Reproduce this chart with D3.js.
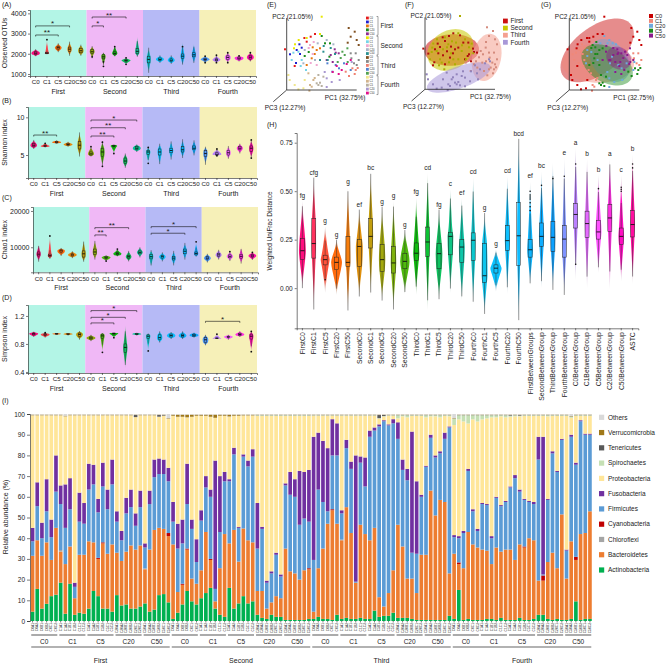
<!DOCTYPE html>
<html>
<head>
<meta charset="utf-8">
<script src="https://cdn.jsdelivr.net/npm/d3@7"></script>
<style>
body{margin:0;background:#fff}
svg text{font-family:"Liberation Sans",Arial,sans-serif;fill:#222}
</style>
</head>
<body>
<svg id="fig" width="669" height="665"></svg>
<script>
// ---------- shared categories ----------
const periods = ["First","Second","Third","Fourth"];
const concs = ["C0","C1","C5","C20","C50"];
const reps = ["A1","A2","B1","B2","C1","C2"];
const groups = periods.flatMap(p => concs.map(c => p + c));

// ---------- alpha diversity (lo, q1, median, q3, hi) ----------
const otuStats = [
 [1880,1960,2030,2100,2230],[1980,2000,2030,2060,2700],[2080,2230,2300,2360,2520],[1900,2120,2230,2330,2600],[1900,2050,2150,2260,2450],
 [1780,2020,2100,2200,2380],[1380,1750,1850,1950,2050],[1870,1960,2020,2100,2430],[1480,1630,1670,1700,1800],[1850,2000,2120,2250,2850],
 [1050,1550,1720,1880,2300],[1550,1670,1720,1790,1920],[1500,1620,1680,1750,1920],[1400,1780,1880,1990,2600],[1500,1850,1950,2050,2500],
 [1560,1680,1720,1770,1880],[1560,1650,1700,1750,1930],[1560,1720,1820,1900,2060],[1620,1720,1780,1840,1900],[1620,1740,1830,1920,2050]];
const otuDots = [["FirstC1",2700],["SecondC0",1850],["SecondC1",1600],["SecondC1",1380],["SecondC5",2350],["SecondC20",1800],["SecondC20",1480],
 ["ThirdC20",2350],["FourthC0",1880],["FourthC0",1560],["FourthC1",1930],["FourthC1",1560],["FourthC5",2050],["FourthC5",1560],["FourthC20",1900],["FourthC50",2050]];
const otuSig = [["FirstC0","FirstC20",3380,"*"],["FirstC0","FirstC5",2930,"**"],["SecondC0","SecondC20",3820,"**"],["SecondC0","SecondC1",3380,"*"]];

const shannonStats = [
 [5.8,6.1,6.3,6.5,7.0],[6.0,6.1,6.2,6.25,6.6],[6.5,6.6,6.7,6.8,6.95],[6.1,6.3,6.4,6.5,6.75],[4.8,5.8,6.3,6.8,8.0],
 [4.8,5.0,5.15,5.4,6.1],[3.5,4.8,5.4,5.9,6.8],[5.2,6.1,6.2,6.3,6.4],[3.3,3.9,4.2,4.6,5.2],[5.4,5.7,5.9,6.1,6.4],
 [3.9,5.1,5.4,5.6,6.0],[3.6,5.0,5.4,5.8,6.5],[4.4,5.3,5.6,5.9,6.9],[4.6,5.4,5.7,6.1,7.1],[4.9,5.7,5.9,6.2,7.0],
 [3.7,4.8,5.2,5.6,6.1],[4.9,5.0,5.1,5.3,5.8],[4.5,5.0,5.3,5.6,6.2],[5.2,5.7,5.9,6.1,6.5],[4.6,5.5,5.9,6.2,7.0]];
const shannonDots = [["FirstC1",6.55],["SecondC0",6.1],["SecondC1",3.5],["SecondC1",6.7],["SecondC5",5.2],["ThirdC0",6.0],["ThirdC0",3.9],
 ["FourthC1",5.8],["FourthC1",4.9],["FourthC50",4.6],["FourthC50",7.0]];
const shannonSig = [["FirstC0","FirstC5",7.65,"**"],["SecondC0","SecondC50",9.64,"*"],["SecondC0","SecondC20",8.62,"**"],["SecondC0","SecondC5",7.52,"**"]];

const chaoStats = [
 [6000,7600,8100,8700,10800],[6800,7400,7700,8100,13100],[7600,8500,9000,9300,9800],[7000,7600,7900,8200,8900],[6000,7300,8200,9000,12000],
 [6600,8000,8700,9500,12000],[6200,6900,7100,7400,7800],[7500,7900,8200,8500,9500],[6100,7000,7400,7800,9000],[7200,8200,8600,9000,10000],
 [4500,6800,7400,8000,9200],[6100,7000,7400,7700,8600],[5000,6500,7000,7500,9000],[6600,8200,8900,9500,11200],[7400,7900,8300,8700,11500],
 [5800,6600,7000,7400,8200],[6600,7500,7900,8300,9300],[6200,7100,7500,7900,8800],[5500,7000,7500,8000,10000],[6500,7300,7600,8000,8600]];
const chaoDots = [["FirstC1",13100],["SecondC1",6200],["SecondC5",9500],["ThirdC50",11500],["FourthC5",8800],["FourthC50",8600]];
const chaoSig = [["SecondC0","SecondC20",15400,"**"],["SecondC0","SecondC1",13390,"**"],["ThirdC0","ThirdC50",15675,"*"],["ThirdC0","ThirdC20",13860,"*"]];

const simpsonStats = [
 [0.90,0.93,0.945,0.955,0.975],[0.89,0.92,0.93,0.945,0.96],[0.93,0.94,0.945,0.95,0.955],[0.92,0.935,0.94,0.95,0.955],[0.86,0.91,0.935,0.955,0.985],
 [0.84,0.87,0.885,0.90,0.93],[0.68,0.88,0.915,0.94,0.955],[0.89,0.94,0.95,0.955,0.96],[0.45,0.68,0.75,0.80,1.07],[0.92,0.935,0.94,0.95,0.96],
 [0.70,0.88,0.91,0.93,0.95],[0.82,0.86,0.89,0.93,0.98],[0.87,0.90,0.92,0.94,0.97],[0.87,0.90,0.92,0.94,0.98],[0.89,0.91,0.925,0.94,0.96],
 [0.78,0.82,0.86,0.89,0.93],[0.87,0.875,0.88,0.885,0.94],[0.86,0.89,0.90,0.91,0.93],[0.90,0.92,0.935,0.95,0.98],[0.69,0.87,0.91,0.94,0.98]];
const simpsonDots = [["FirstC1",0.96],["SecondC1",0.68],["SecondC5",0.89],["ThirdC0",0.70],["FourthC1",0.94],["FourthC50",0.98],["FourthC50",0.69]];
const simpsonSig = [["SecondC0","SecondC50",1.276,"*"],["SecondC0","SecondC20",1.18,"*"],["SecondC0","SecondC5",1.1,"*"],["FourthC0","FourthC20",1.123,"*"]];

// ---------- PCoA scores, one per sample (period, conc, rep order) ----------
const pc1 = [
 24,28.3,20,17.7,-1.7,8, 12.7,15,13.3,9.3,3.3,10, 26,30,33.3,25,20,28, 35,38.3,43.3,22,18,42.7, 44,40,46,48,49,52,
 35,33.3,12,20,8.3,7.3, 6.7,11.7,5,14,19.3,15, 23.3,27,22,26,24,30, 31,40,46.7,16.7,28.3,18, 36.7,48.3,44,41,37,33.3,
 68,64,62,70,72,61, 64,69,72,64.7,67.3,70, 65.7,69,62.3,59,68,71, 57.3,52.3,49,40.7,45.7,64, 58,54,51,61,60.7,55.7,
 1.7,3,8,11.7,16.7,18, 22.7,23.3,25,21.7,28,26.7, 30,31.7,33.3,35,31.7,36.7, 40,40,45,38,53,65, 50,55,60,46,52,64];
const pc2 = [
 53.3,56,48.3,52,40.7,24, 45.7,42.3,36,27,35.7,40, 42.7,40,41.7,31.7,25,36, 54,46.7,46.7,38,34,33.3, 35,30,28,40.7,37.3,36.7,
 73.3,56,50,52,45.7,41.7, 37.3,38.3,30,24,20,30, 45,48,42,36,27,25, 46.7,50,45.7,26.7,30,40, 38.3,36,42,30,44,30,
 58.3,53.3,62,50,45,47.3, 36.7,36.7,30,31.7,26.7,25, 21.7,20,14,18.3,16,22, 26.7,21.7,25,26.7,18.3,20, 35,32,28,28,41.7,38.3,
 15,10,5,0.7,1.7,10, -0.7,5,3.3,16.7,12,10, 6.7,5,7.3,4,15,13.3, 11.7,3,8,18,10,28, 24,20,26,18,16,30];

// ---------- beta diversity (weighted UniFrac) ----------
const hLabels = ["FirstC0","FirstC1","FirstC5","FirstC20","FirstC50","SecondC0","SecondC1","SecondC5","SecondC20","SecondC50",
 "ThirdC0","ThirdC1","ThirdC5","ThirdC20","ThirdC50","FourthC0","FourthC1","FourthC5","FourthC20","FourthC50",
 "FirstBetweenGroups","SecondBetweenGroup","ThirdBetweenGroup","FourthBetweenGroup","C0BetweenGroup","C1BetweenGroup",
 "C5BetweenGroup","C20BetweenGroup","C50BetweenGroup","ASTC"];
const hLo  = [0.0,-0.11,-0.025,-0.035,-0.115,-0.043,-0.043,-0.064,-0.11,-0.03,-0.035,-0.115,-0.057,-0.026,-0.064,-0.086,-0.133,-0.017,-0.03,-0.165,0.014,0.0,-0.009,-0.035,0.04,0.0,0.078,-0.009,0.034,0.022];
const hQ1  = [0.147,0.155,0.12,0.095,0.112,0.112,0.207,0.086,0.078,0.10,0.143,0.164,0.10,0.172,0.133,0.143,0.03,0.078,0.195,0.116,0.16,0.216,0.19,0.16,0.31,0.262,0.253,0.293,0.224,0.264];
const hMed = [0.193,0.23,0.147,0.133,0.133,0.215,0.267,0.147,0.13,0.138,0.18,0.238,0.178,0.267,0.212,0.247,0.064,0.103,0.245,0.27,0.198,0.267,0.262,0.253,0.38,0.333,0.29,0.362,0.267,0.328];
const hQ3  = [0.257,0.36,0.17,0.16,0.267,0.25,0.36,0.224,0.215,0.18,0.233,0.315,0.23,0.288,0.25,0.285,0.23,0.12,0.322,0.443,0.25,0.336,0.345,0.322,0.436,0.397,0.35,0.431,0.31,0.40];
const hHi  = [0.45,0.57,0.32,0.25,0.52,0.405,0.595,0.42,0.45,0.30,0.47,0.595,0.405,0.51,0.465,0.574,0.388,0.20,0.578,0.77,0.55,0.603,0.647,0.672,0.724,0.667,0.586,0.667,0.586,0.69];
const hLetters = ["fg","cfg","g","g","g","ef","bc","g","g","g","fg","cd","fg","c","ef","cd","g","g","cd","bcd","ef","bc","","e","a","b","b","a","c","b"];
const hDots = [["FirstC5",0.043],["FirstBetweenGroups",0.40],["FirstBetweenGroups",0.42],["FirstBetweenGroups",0.44],["FirstBetweenGroups",0.46],
 ["FirstBetweenGroups",0.47],["FirstBetweenGroups",0.48],["FirstBetweenGroups",0.50],["SecondBetweenGroup",0.53],["ThirdBetweenGroup",0.565],
 ["FourthBetweenGroup",0.577],["C0BetweenGroup",0.64],["C0BetweenGroup",0.123],["C5BetweenGroup",0.513],["C50BetweenGroup",0.50],
 ["C50BetweenGroup",0.51],["C50BetweenGroup",0.52],["ASTC",0.62],["ASTC",0.64]];

// ---------- relative abundance, cumulative tops per sample (%) ----------
const actTop = [
 4.5,15.5,6,8.3,12,12.7, 18.5,3.5,18,3,4,3.5, 6,14.5,12,6,6,4.5, 12.5,7.5,8,6,6,7, 8.5,4.5,5.5,12.5,13,9,
 1,4,8,14.5,9.5,8, 11,13.5,16,6,3,2, 16,6,8.5,12,8.5,9.5, 3,1.5,1,3,2,2, 0.5,0.5,0.5,0.5,0.5,1,
 1,2,1,1,0.5,3, 1,1.5,1,1,1.5,1, 1,5,2,2.5,2.5,4, 1.5,1.5,1.5,1,0.5,0.5, 0.5,0.5,0.5,0.5,0.5,2.5,
 1,15,0.5,1,0.5,0.5, 0.5,1,1,0.5,1.5,0.5, 0.5,0.5,1.5,0.5,0.5,1, 3,3,1,0.5,1,0.5, 0.5,1,9.5,0.5,1,1];
const bacTop = [
 31.5,39,31.5,38,29.5,45, 33.5,27.5,36,11,32,32, 38.5,38,30,37.5,32.5,37, 33,29,33.5,36.5,34.5,36.5, 25,34.5,44,45,44.5,41,
 37,14,17.5,34.5,20.5,18, 24.5,43,29.5,9.5,25.5,42, 37.5,44,28.7,44.7,39,38, 14.5,14.5,6,9,12,11, 35,24,23,20,24.5,25,
 4.5,25.5,35,47,53.5,47, 39,55,42.5,18.5,46.5,42, 39,45,11.5,7,13.5,24.5, 46.5,36,20.5,20.5,13.5,32, 32,63,51,58.5,57.5,23,
 32.5,27.5,25.5,43,37,35.5, 34.5,34,27.5,35.5,33.5,34.5, 34.5,29.5,37,35.5,40,39, 19.5,19.5,28.5,33,25.5,51.5, 20.5,38.5,29.5,42,42.5,53];
const chloro = [
 0,0,0,0,0,0, 0.8,0,0,0,0,0, 0,0,0,0,0,0, 0,0,0,0,0,0, 0.4,0,0,0,0,0,
 0,0,0,0,0,0, 0,0,0,0,0,0, 0,0,0,0,0,0, 0,0,0,0,0,0, 0,0,0,0,0,0,
 0,0,0,0,0,0, 0.3,0,0,0,0,0, 0,0,0,0,0,0, 0,0,0,0,0,0, 0,0,0,0,0,0,
 0,0,0,0,0,0, 0,0,0,0,0,0, 0,0,0,0,0,0, 0,0,0,0,0,0, 0,0,0,0,0,0];
const cyano = [
 0,0,0,0,0,0, 0,0,0,0,0,0, 0,0,0.5,0.5,0,0, 0,0,0,0,0,0, 0,0,0,0,0,1.5,
 0,0,0.5,0.5,0,0, 0,0,0.5,0,0,0, 0,0,0,0,0,0, 0,0,0,0,0,0, 0,0,0,0,0,0.5,
 0,0,0,0,0.5,0, 0,0,0,0,0,0, 0,0,0,0,0,0, 0,0,0,0,0,0, 0,0,0,0,0,0,
 0,0.8,0,0,0,0, 0,0,0,0,0,0, 0,0,0,0.5,0,0, 0,2.5,0,0,0,0, 0,0,1.5,0,0,0];
const firTop = [
 38.5,55.5,40,53,40.5,62.5, 56.5,45,54,16.5,48,47, 63.5,66,52.5,65,54,66, 48,39,52,55,46,55, 35.5,56.5,69.5,71,71,67.5,
 48,35,37.5,56.5,44.5,28.5, 48.5,64.5,60,15.5,43,67.5, 67.5,80.5,45,79.4,74.7,79.4, 35,44.5,18.5,23,32,21.5, 65.5,61,60,46.5,49.5,48,
 29.5,63.5,57.5,53,80,80, 52,83.5,73.5,19,76.5,65, 89,92,94,96.5,94.5,95.5, 88,73,68,33,32.5,60, 74.5,88.5,79,81,88,93.5,
 40.5,40,42.5,72.5,53,43.5, 56.5,56,40,59.5,55.5,57.5, 64.5,69,62.5,58.5,57.5,56.5, 78,22.5,58.5,81,72,87.5, 34,89,75.5,96.5,90,90];
const fusTop = [
 45,67,47.5,68.5,49,80, 65.5,66,69,18.5,62,57, 76,75.5,59,76.5,63.5,78, 53,43.5,59.5,63.5,52,63, 37.5,63,78,78.5,78,74,
 57.5,47,49,76,49,39.5, 53.5,70,63.5,77.5,70,72, 68.5,83.7,45.5,80.5,77.5,83, 57,45.5,19.5,24,33,22.5, 66.5,72,68.5,72.5,72,73,
 89,91,87,83.5,97.5,95.5, 53.5,87.5,77,80,79.5,79, 92,93.5,95,97,95,97.5, 96,78,73.5,91.5,67.5,61, 75,90,80,82,91,94,
 41.5,41,43.5,73.5,54,44.5, 57,56.5,41,60,56,58, 65,70.5,63.5,59,58,57.5, 89,89,59,82,72.5,88, 34.5,90,76.5,97,90.5,90.5];
// small phyla at the top of each bar (%)
const spiro = [
 0,0,0,0,0,0, 0,0,0,0,0,0, 0,0,0,0,0,0, 0,0,0,0,0,0, 0,0,0,0,0,0,
 0,0,0,0,0,0, 0,0,0,0,0,0, 0,0,0,0,0,0, 0.3,0.3,0.3,0.3,0.3,0.3, 0.3,0.3,0.3,0.3,0.3,0.3,
 0.2,0.2,0.2,0.2,0.2,0.2, 0.2,0.2,0.2,0.2,0.2,0.2, 0.2,0.2,0.2,0.2,0.2,0.2, 1.5,0.5,1,0.3,0.3,0.3, 1,0.5,0.5,1,0.3,0.5,
 3,2,3,4,2,3, 2,1.5,1,1,0.5,1, 0.5,0.5,0.3,0.3,0.3,0.3, 0.3,0.3,0.5,0.3,0.3,0.3, 0.3,0.5,0.3,0.3,0.3,0.3];
const teneri = [
 0.1,0.1,0.1,0.1,0.1,0.1, 0.1,0.1,0.1,0.1,0.1,0.1, 0.1,0.1,0.1,0.1,0.1,0.1, 0.1,0.1,0.1,0.1,1,0.1, 0.1,0.1,0.1,0.8,0.3,0.1,
 0.1,0.1,0.1,0.1,0.1,0.1, 0.1,0.1,0.1,0.1,0.1,0.1, 0.1,0.1,0.1,0.1,0.1,0.1, 0.1,0.1,0.1,0.1,0.1,0.1, 0.1,0.1,0.1,0.1,0.1,0.1,
 0.1,0.1,0.1,0.1,0.1,0.1, 0.1,0.1,0.1,0.1,0.1,0.1, 0.1,0.1,1.5,0.5,0.1,0.1, 0.1,0.1,0.1,0.1,0.1,0.1, 0.1,0.1,0.1,0.1,0.1,0.1,
 0.1,0.1,0.1,0.1,0.1,0.1, 0.1,0.1,0.1,0.1,0.1,0.1, 0.3,0.1,0.3,0.1,0.1,0.1, 0.1,0.1,0.1,0.1,0.1,0.1, 0.1,0.1,0.1,0.1,0.1,0.1];
const verruco = [
 0.2,0.2,0.2,0.2,0.2,0.2, 0.2,0.2,0.2,0.2,0.2,0.2, 0.2,0.2,0.2,0.2,0.2,0.2, 0.2,0.2,0.2,0.2,0.2,0.2, 0.2,0.2,0.2,0.2,0.2,0.2,
 0.5,1,1,1.2,1,0.5, 0.5,0.5,1,1.5,0.5,0.5, 0.8,0.5,0.5,0.3,0.3,0.3, 0.2,0.2,0.2,0.2,0.2,0.2, 0.2,0.2,0.2,0.2,0.2,0.2,
 0.2,0.2,0.2,0.2,0.2,0.2, 0.2,0.2,0.2,0.2,0.2,0.2, 0.2,0.2,0.2,0.2,0.2,0.2, 0.2,0.2,0.2,0.2,0.2,0.2, 0.2,0.2,0.2,0.2,0.2,0.2,
 0.2,0.2,0.2,0.2,0.2,0.2, 0.2,0.2,0.2,0.2,0.2,0.2, 0.2,0.2,0.2,0.2,0.2,0.2, 0.2,0.2,0.2,0.2,0.2,0.2, 0.2,0.2,0.2,0.2,0.2,0.2];
const others = [
 0.3,0.3,0.3,0.3,0.3,0.3, 0.3,0.8,0.3,0.3,0.3,0.3, 0.3,0.3,0.3,0.3,0.3,0.3, 0.3,0.3,0.3,0.3,0.3,0.3, 0.3,0.3,0.3,0.3,0.3,2,
 0.3,0.3,0.3,0.3,0.3,0.3, 0.3,0.3,0.3,0.3,0.3,0.3, 0.3,0.3,0.3,0.3,0.3,0.3, 0.3,0.3,0.3,0.3,0.3,0.3, 0.3,0.3,0.3,0.3,0.3,0.3,
 0.3,0.3,0.3,0.3,0.3,0.3, 0.3,0.3,0.3,0.3,0.3,0.3, 0.3,0.3,0.3,0.3,0.3,0.3, 0.3,0.3,0.3,0.3,0.3,0.3, 0.3,0.3,0.3,0.3,0.3,0.3,
 2,0.3,0.3,0.3,0.3,0.3, 0.3,0.3,0.3,0.3,0.3,0.3, 0.3,0.3,0.3,0.3,0.3,0.3, 0.3,0.3,0.3,0.3,0.3,0.3, 0.3,1,0.3,0.3,0.3,0.3];

const phyla = ["Actinobacteria","Bacteroidetes","Chloroflexi","Cyanobacteria","Firmicutes","Fusobacteria",
 "Proteobacteria","Spirochaetes","Tenericutes","Verrucomicrobia","Others"];
const phylaColors = ["#00b050","#ed7d31","#a5a5a5","#c00000","#5b9bd5","#7030a0","#ffe699","#c5e0b4","#595959","#a07818","#d9d9d9"];

// colour sets
const eColors = ["#e41a1c","#1f1fd0","#e6770f","#1b8a1b","#8e2c8e", "#e8e800","#74d4e8","#f0a8d0","#a8b4c8","#2a9090",
 "#805020","#888888","#f08070","#5080d0","#50a050", "#f0e68c","#d2b48c","#b8b0a0","#a898d0","#e0108a"];
const fColors = ["#cc1010","#c8c800","#f4a090","#a898d8"];
const gColors = ["#c80000","#f08878","#6fa8dc","#1a8a1a","#8b1a8b"];
const gOrder = ["C0","C1","C20","C5","C50"];

// ---------- helpers ----------
const svg = d3.select("#fig");
const defs = svg.append("defs");
const hue = n => d3.range(n).map(i => d3.hcl(15 + 360 * i / n, 100, 65).formatHex());
let gid = 0;

function violin(g, cx, ys, s, color, wLim) {
  const [lo, q1, med, q3, hi] = s;
  const span = Math.abs(ys(lo) - ys(hi));
  const half = Math.max(wLim[0], Math.min(wLim[1], wLim[2] / span));
  const prof = [[lo,0],[(lo+q1)/2,0.3],[q1,0.8],[med,1],[q3,0.8],[(q3+hi)/2,0.3],[hi,0]];
  const id = "vg" + (gid++);
  const t = v => (ys(v) - ys(hi)) / (ys(lo) - ys(hi));
  const gr = defs.append("linearGradient").attr("id", id).attr("gradientUnits", "userSpaceOnUse")
    .attr("x1", 0).attr("x2", 0).attr("y1", ys(hi)).attr("y2", ys(lo));
  [[0,"#b0b0b0",0.3],[t(q3)*0.5,color,0.95],[t(q1)+(1-t(q1))*0.5,color,0.95],[1,"#b0b0b0",0.3]].forEach(s2 =>
    gr.append("stop").attr("offset", s2[0]).attr("stop-color", s2[1]).attr("stop-opacity", s2[2]));
  const area = d3.area().curve(d3.curveMonotoneY)
    .y(d => ys(d[0])).x0(d => cx - half * d[1]).x1(d => cx + half * d[1]);
  g.append("path").attr("d", area(prof)).attr("fill", `url(#${id})`);
}

function boxplot(g, cx, ys, s, bw) {
  const [lo, q1, med, q3, hi] = s;
  const iqr = q3 - q1;
  g.append("line").attr("x1", cx).attr("x2", cx).attr("y1", ys(q3)).attr("y2", ys(Math.min(hi, q3 + 1.5*iqr)))
    .attr("stroke", "#333").attr("stroke-width", 0.5);
  g.append("line").attr("x1", cx).attr("x2", cx).attr("y1", ys(q1)).attr("y2", ys(Math.max(lo, q1 - 1.5*iqr)))
    .attr("stroke", "#333").attr("stroke-width", 0.5);
  g.append("rect").attr("x", cx - bw/2).attr("width", bw).attr("y", ys(q3)).attr("height", ys(q1) - ys(q3))
    .attr("fill", "none").attr("stroke", "#222").attr("stroke-width", 0.5);
  g.append("line").attr("x1", cx - bw/2).attr("x2", cx + bw/2).attr("y1", ys(med)).attr("y2", ys(med))
    .attr("stroke", "#111").attr("stroke-width", 0.9);
}

function styleAxis(sel, size) {
  sel.attr("font-family", null).attr("font-size", null);
  sel.selectAll("text").style("font-size", size + "px").attr("fill", "#222");
  sel.selectAll("path,line").attr("stroke", "#222").attr("stroke-width", 0.6);
}

function tag(x, y, t) {
  svg.append("text").attr("x", x).attr("y", y).style("font-size", "7px").text(t);
}

// ---------- panels A-D ----------
const groupColors = hue(20);
const alphaPanels = [
 {t:"(A)", ty:7, ylab:"Observed OTUs", top:10, bottom:76, left:30, right:256, domain:[900,4167], ticks:[1000,2000,3000,4000], fmt:d3.format("d"), stats:otuStats, dots:otuDots, sig:otuSig},
 {t:"(B)", ty:103, ylab:"Shannon index", top:107, bottom:178, left:28, right:257, domain:[1.95,11.37], ticks:[5,10], fmt:d3.format("d"), stats:shannonStats, dots:shannonDots, sig:shannonSig},
 {t:"(C)", ty:200, ylab:"Chao1 index", top:207, bottom:272.3, left:33, right:258, domain:[3100,21090], ticks:[10000,20000], fmt:d3.format("d"), stats:chaoStats, dots:chaoDots, sig:chaoSig},
 {t:"(D)", ty:300, ylab:"Simpson index", top:305, bottom:373, left:28, right:257, domain:[0.385,1.356], ticks:[0.4,0.8,1.2], fmt:d3.format(".1f"), stats:simpsonStats, dots:simpsonDots, sig:simpsonSig}];
const bandFill = ["#b3f5e6","#f0b8f6","#b6baf6","#f6f0b8"];

alphaPanels.forEach(p => {
  const g = svg.append("g");
  const x = d3.scaleBand().domain(groups).range([p.left, p.right]);
  const y = d3.scaleLinear().domain(p.domain).range([p.bottom, p.top]);
  const bw = x.bandwidth();
  periods.forEach((per, i) => {
    g.append("rect").attr("x", x(per + "C0")).attr("y", p.top)
      .attr("width", x(per + "C50") + bw - x(per + "C0")).attr("height", p.bottom - p.top)
      .attr("fill", bandFill[i]);
    g.append("text").attr("x", x(per + "C5") + bw/2).attr("y", p.bottom + 17.5)
      .attr("text-anchor", "middle").style("font-size", "7px").text(per);
  });
  groups.forEach((k, i) => {
    const cx = x(k) + bw/2;
    violin(g, cx, y, p.stats[i], groupColors[i], [2.2, 4.5, 30]);
    boxplot(g, cx, y, p.stats[i], 2.6);
  });
  g.selectAll(".dot").data(p.dots).join("circle")
    .attr("cx", d => x(d[0]) + bw/2).attr("cy", d => y(d[1])).attr("r", 0.9).attr("fill", "#111");
  p.sig.forEach(s => {
    const x1 = x(s[0]) + bw/2, x2 = x(s[1]) + bw/2, yy = y(s[2]);
    g.append("path").attr("d", `M${x1},${yy + 1.5}V${yy}H${x2}V${yy + 1.5}`)
      .attr("fill", "none").attr("stroke", "#111").attr("stroke-width", 0.6);
    g.append("text").attr("x", (x1 + x2)/2).attr("y", yy + 0.5).attr("text-anchor", "middle")
      .style("font-size", "8px").text(s[3]);
  });
  const ax = g.append("g").attr("transform", `translate(${p.left},0)`)
    .call(d3.axisLeft(y).tickValues(p.ticks).tickFormat(p.fmt).tickSize(2).tickPadding(1.5));
  styleAxis(ax, 7);
  const bx = g.append("g").attr("transform", `translate(0,${p.bottom})`)
    .call(d3.axisBottom(x).tickFormat(k => k.replace(/First|Second|Third|Fourth/, "")).tickSize(2).tickPadding(2));
  styleAxis(bx, 6.2);
  g.append("text").attr("transform", `translate(7,${(p.top + p.bottom)/2}) rotate(-90)`)
    .attr("text-anchor", "middle").style("font-size", "7px").text(p.ylab);
  tag(2, p.ty, p.t);
});

// ---------- panels E, F, G (PCoA) ----------
const samples = groups.flatMap((g, gi) => reps.map((r, ri) => ({
  id: g + r, gi, pi: Math.floor(gi / 5), ci: gi % 5, pc1: pc1[gi*6 + ri], pc2: pc2[gi*6 + ri]})));

const pcoaPanels = [
  {t:"(E)", tx:267, ox:286.7, oy:90, pc1x:38, mode:"E"},
  {t:"(F)", tx:405, ox:425, oy:89.3, pc1x:45, mode:"F"},
  {t:"(G)", tx:541, ox:569.3, oy:90, pc1x:44, mode:"G"}];

function ellipse(pts, k) {
  const n = pts.length;
  const mx = d3.mean(pts, d => d.pc1), my = d3.mean(pts, d => d.pc2);
  const a = d3.sum(pts, d => (d.pc1 - mx) ** 2) / (n - 1);
  const dd = d3.sum(pts, d => (d.pc2 - my) ** 2) / (n - 1);
  const b = d3.sum(pts, d => (d.pc1 - mx) * (d.pc2 - my)) / (n - 1);
  const tr = a + dd, det = a * dd - b * b;
  const l1 = tr/2 + Math.sqrt(tr*tr/4 - det), l2 = tr/2 - Math.sqrt(tr*tr/4 - det);
  const th = Math.abs(b) < 1e-9 ? (a >= dd ? 0 : Math.PI/2) : Math.atan2(l1 - a, b);
  return d3.range(0, 64).map(i => {
    const u = i / 64 * 2 * Math.PI;
    const ex = k * Math.sqrt(l1) * Math.cos(u), ey = k * Math.sqrt(l2) * Math.sin(u);
    return [mx + ex * Math.cos(th) - ey * Math.sin(th), my + ex * Math.sin(th) + ey * Math.cos(th)];
  });
}

pcoaPanels.forEach(p => {
  const g = svg.append("g");
  const xs = d3.scaleLinear().domain([0, 70]).range([p.ox, p.ox + 70]);
  const ys = d3.scaleLinear().domain([0, 72]).range([p.oy, p.oy - 72]);
  const line = d3.line().x(d => xs(d[0])).y(d => ys(d[1])).curve(d3.curveLinearClosed);
  if (p.mode === "F") {
    periods.forEach((per, i) => g.append("path").attr("d", line(ellipse(samples.filter(s => s.pi === i), 1.85)))
      .attr("fill", fColors[i]).attr("fill-opacity", 0.55));
  }
  if (p.mode === "G") {
    gOrder.forEach((c, i) => g.append("path").attr("d", line(ellipse(samples.filter(s => concs[s.ci] === c), 1.5)))
      .attr("fill", gColors[i]).attr("fill-opacity", 0.45));
  }
  const col = s => p.mode === "E" ? eColors[s.gi] : p.mode === "F" ? fColors[s.pi] : gColors[gOrder.indexOf(concs[s.ci])];
  g.selectAll(".pt").data(samples).join("rect")
    .attr("x", d => xs(d.pc1) - 1).attr("y", d => ys(d.pc2) - 1).attr("width", 2).attr("height", 2)
    .attr("fill", d => p.mode === "F" ? d3.color(col(d)).darker(0.4) : col(d));
  const ax = `M${xs(0)},${ys(72)}V${ys(0)}H${xs(70)}M${xs(0)},${ys(0)}L${p.ox - 13.4},${p.oy + 11.7}`;
  g.append("path").attr("d", ax).attr("fill", "none").attr("stroke", "#222").attr("stroke-width", 0.8);
  g.append("text").attr("x", p.ox - 14.5).attr("y", p.oy - 71).style("font-size", "6.5px").text("PC2 (21.05%)");
  g.append("text").attr("x", p.ox + p.pc1x).attr("y", p.oy + 9.5).style("font-size", "6.5px").text("PC1 (32.75%)");
  g.append("text").attr("x", p.ox - 22).attr("y", p.oy + 19.5).style("font-size", "6.5px").text("PC3 (12.27%)");
  tag(p.tx, 7, p.t);
});

// legends E, F, G
const eLeg = svg.append("g");
groups.forEach((k, i) => {
  const yy = 18 + i * 3.95;
  eLeg.append("rect").attr("x", 366).attr("y", yy - 1.4).attr("width", 2.8).attr("height", 2.8).attr("fill", eColors[i]);
  eLeg.append("text").attr("x", 369.6).attr("y", yy + 0.9).style("font-size", "2.6px").text(concs[i % 5]);
});
periods.forEach((per, i) => {
  const y1 = 18 + i * 5 * 3.95 - 1.5, y2 = 18 + (i * 5 + 4) * 3.95 + 1.5;
  eLeg.append("path").attr("d", `M376.5,${y1}H378V${y2}H376.5`).attr("fill", "none").attr("stroke", "#444").attr("stroke-width", 0.5);
  eLeg.append("text").attr("x", 380.5).attr("y", (y1 + y2)/2 + 2.3).style("font-size", "6.5px").text(per);
});
periods.forEach((per, i) => {
  svg.append("rect").attr("x", 503).attr("y", 18.6 + i * 7.1).attr("width", 4.8).attr("height", 4.8).attr("fill", fColors[i]);
  svg.append("text").attr("x", 510.5).attr("y", 23.2 + i * 7.1).style("font-size", "6.5px").text(per);
});
gOrder.forEach((c, i) => {
  svg.append("rect").attr("x", 649).attr("y", 14 + i * 4.9).attr("width", 4).attr("height", 4).attr("fill", gColors[i]);
  svg.append("text").attr("x", 655).attr("y", 18 + i * 4.9).style("font-size", "5.6px").text(c);
});

// ---------- panel H ----------
{
  const g = svg.append("g");
  const hColors = hue(30);
  const x = d3.scaleBand().domain(hLabels).range([296.7, 638.3]);
  const y = d3.scaleLinear().domain([-0.207, 0.80]).range([328.3, 133]);
  const bw = x.bandwidth();
  hLabels.forEach((k, i) => {
    const cx = x(k) + bw/2;
    const s = [hLo[i], hQ1[i], hMed[i], hQ3[i], hHi[i]];
    violin(g, cx, y, s, hColors[i], [1.6, 5.6, 300]);
    boxplot(g, cx, y, s, 4);
    g.append("text").attr("x", cx).attr("y", y(hHi[i]) - 3).attr("text-anchor", "middle")
      .style("font-size", "6.5px").text(hLetters[i]);
  });
  g.selectAll(".hd").data(hDots).join("circle")
    .attr("cx", d => x(d[0]) + bw/2).attr("cy", d => y(d[1])).attr("r", 0.8).attr("fill", "#111");
  const ax = g.append("g").attr("transform", "translate(296.7,0)")
    .call(d3.axisLeft(y).tickValues([0, 0.25, 0.5, 0.75]).tickFormat(d3.format(".2f")).tickSize(2).tickPadding(2));
  styleAxis(ax, 6.5);
  const bx = g.append("g").attr("transform", "translate(0,328.3)")
    .call(d3.axisBottom(x).tickSize(2));
  styleAxis(bx, 6.8);
  bx.selectAll("text").attr("transform", "rotate(-90)").attr("x", -4).attr("y", 0).attr("dy", "0.35em")
    .style("text-anchor", "end");
  g.append("text").attr("transform", "translate(272,231) rotate(-90)").attr("text-anchor", "middle")
    .style("font-size", "6.5px").text("Weighted UniFrac Distance");
  tag(267, 127, "(H)");
}

// ---------- panel I ----------
{
  const g = svg.append("g");
  const ids = samples.map(s => s.id);
  const x = d3.scaleBand().domain(ids).range([30.5, 592]).paddingInner(0.22).paddingOuter(0.05);
  const y = d3.scaleLinear().domain([0, 100]).range([621, 414]);
  samples.forEach((s, i) => {
    const topOthers = 100 - others[i], topVer = topOthers - verruco[i], topTen = topVer - teneri[i], topSpi = topTen - spiro[i];
    const b = [0, actTop[i], bacTop[i], bacTop[i] + chloro[i], bacTop[i] + chloro[i] + cyano[i], firTop[i], fusTop[i],
               topSpi, topTen, topVer, topOthers, 100];
    for (let j = 0; j < phyla.length; j++) {
      if (b[j+1] - b[j] <= 0) continue;
      g.append("rect").attr("x", x(s.id)).attr("width", x.bandwidth())
        .attr("y", y(b[j+1])).attr("height", y(b[j]) - y(b[j+1])).attr("fill", phylaColors[j]);
    }
  });
  const ax = g.append("g").attr("transform", "translate(30,0)")
    .call(d3.axisLeft(y).tickValues(d3.range(0, 101, 10)).tickSize(3).tickPadding(2));
  styleAxis(ax, 6.5);
  const bx = g.append("g").attr("transform", "translate(0,621)")
    .call(d3.axisBottom(x).tickSize(1.5).tickFormat(k => k.replace(/First|Second|Third|Fourth/, "")));
  styleAxis(bx, 3.3);
  bx.select(".domain").remove();
  bx.selectAll("text").attr("transform", "rotate(-90)").attr("x", -2).attr("y", 0).attr("dy", "0.35em")
    .style("text-anchor", "end");
  // group and period brackets
  groups.forEach(k => {
    const x1 = x(k + "A1") + 0.5, x2 = x(k + "C2") + x.bandwidth() - 0.5;
    g.append("line").attr("x1", x1).attr("x2", x2).attr("y1", 635).attr("y2", 635).attr("stroke", "#666").attr("stroke-width", 1.1);
    g.append("text").attr("x", (x1 + x2)/2).attr("y", 643.5).attr("text-anchor", "middle").style("font-size", "6.5px")
      .text(k.replace(/First|Second|Third|Fourth/, ""));
  });
  periods.forEach(per => {
    const x1 = x(per + "C0A1") + 0.5, x2 = x(per + "C50C2") + x.bandwidth() - 0.5;
    g.append("line").attr("x1", x1).attr("x2", x2).attr("y1", 647).attr("y2", 647).attr("stroke", "#666").attr("stroke-width", 1.1);
    g.append("text").attr("x", (x1 + x2)/2).attr("y", 663).attr("text-anchor", "middle").style("font-size", "7px").text(per);
  });
  g.append("text").attr("transform", "translate(8,517) rotate(-90)").attr("text-anchor", "middle")
    .style("font-size", "7px").text("Relative abundance (%)");
  // legend, top entry is the last phylum
  phyla.slice().reverse().forEach((ph, i) => {
    const yy = 417.3 + i * 15.27;
    g.append("rect").attr("x", 599).attr("y", yy - 2.6).attr("width", 5.2).attr("height", 5.2)
      .attr("fill", phylaColors[phyla.length - 1 - i]);
    g.append("text").attr("x", 608).attr("y", yy + 2.3).style("font-size", "6.5px").text(ph);
  });
  tag(2, 403, "(I)");
}
</script>
</body>
</html>
